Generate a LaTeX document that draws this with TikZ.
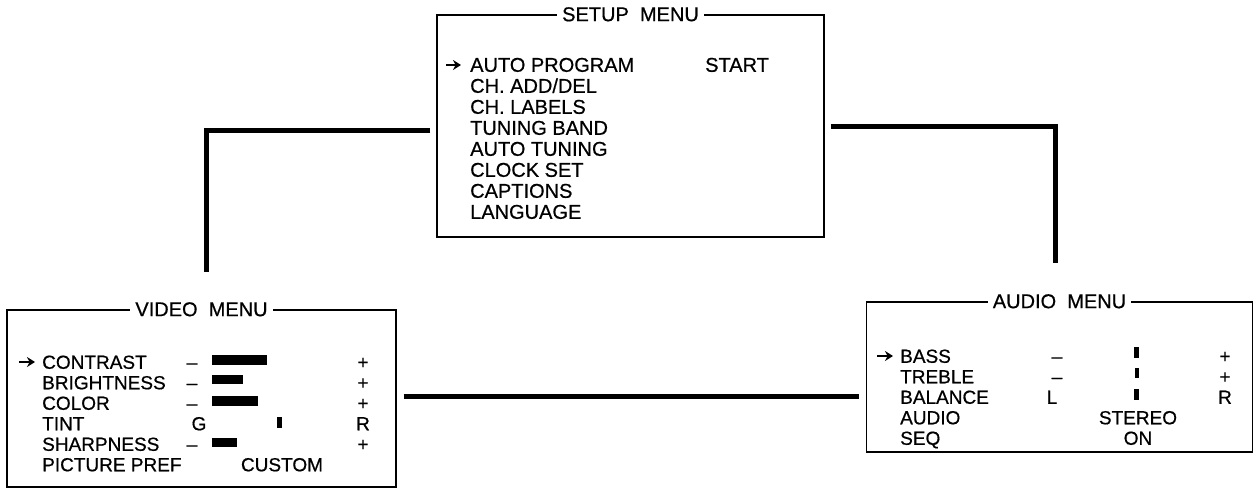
\documentclass[tikz,border=0pt]{standalone}
\usepackage{fontspec}
\setmainfont{Liberation Sans}[FakeBold=0.6]
\usetikzlibrary{arrows.meta}
\tikzset{
	menubox/.style={draw, line width=1.4pt, inner sep=0pt},
	menutitle/.style={fill=white, inner xsep=5pt, inner ysep=1pt, font=\fontsize{20}{20}\selectfont},
	rowtext/.style={anchor=west, inner sep=0pt, text height=13.6pt, text depth=0pt, font=\fontsize{19}{19}\selectfont},
	sign/.style={inner sep=0pt, text height=13.6pt, text depth=0pt, font=\fontsize{19}{19}\selectfont},
	wire/.style={line width=5pt},
	barfill/.style={fill=black},
	cursor/.style={line width=2.4pt, -{Stealth[length=8pt,width=10pt]}}
}

\begin{document}
\begin{tikzpicture}[x=1pt, y=-1pt]
			%%%%% START %%%%%
			\useasboundingbox (0,0) rectangle (1256,490);
			
			% the three menus
			\node[menubox, minimum width=387pt, minimum height=222pt] (setup) at (630.5,126) {};
			\node[menubox, minimum width=389pt, minimum height=177pt] (video) at (201.5,398.5) {};
			\node[menubox, minimum width=386pt, minimum height=150pt] (audio) at (1059.5,377) {};
			
			\node[menutitle] (setuptitle) at (setup.north) {SETUP\ \ MENU};
			\node[menutitle] (videotitle) at (video.north) {VIDEO\ \ MENU};
			\node[menutitle] (audiotitle) at (audio.north) {AUDIO\ \ MENU};
			
			% setup menu
			\foreach \txt [count=\i] in {AUTO PROGRAM, CH. ADD/DEL, CH. LABELS, TUNING BAND, AUTO TUNING, CLOCK SET, CAPTIONS, LANGUAGE}
				\node[rowtext, font=\fontsize{20}{20}\selectfont] (s\i) at (470,{44+21*\i}) {\txt};
			\node[rowtext, font=\fontsize{20}{20}\selectfont] (sstart) at (705,65) {START};
			\draw[cursor] (446,65) -- (461,65);
			
			% video menu
			\foreach \txt [count=\i] in {CONTRAST, BRIGHTNESS, COLOR, TINT, SHARPNESS, PICTURE PREF}
				\node[rowtext] (v\i) at (42,{341.5+20.5*\i}) {\txt};
			\draw[cursor] (19,362) -- (35,362);
			
			\foreach \y [count=\i] in {362, 382.5, 403, 444}
				\node[sign] (vminus\i) at (192,\y) {–};
			\foreach \y [count=\i] in {362, 382.5, 403, 444}
				\node[sign] (vplus\i) at (363,\y) {+};
			\node[sign] (vg) at (199,423.5) {G};
			\node[sign] (vr) at (363,423.5) {R};
			\node[sign] (vcustom) at (282,464.5) {CUSTOM};
			
			\fill[barfill] (212,355) rectangle (267,365);
			\fill[barfill] (212,375) rectangle (243,384);
			\fill[barfill] (212,396) rectangle (258,406);
			\fill[barfill] (277,417) rectangle (282,428);
			\fill[barfill] (212,438) rectangle (237,447);
			
			% audio menu
			\foreach \txt [count=\i] in {BASS, TREBLE, BALANCE, AUDIO, SEQ}
				\node[rowtext] (a\i) at (900,{335.5+20.5*\i}) {\txt};
			\draw[cursor] (877,356) -- (893,356);
			
			\node[sign] (aminus1) at (1057,356) {–};
			\node[sign] (aminus2) at (1057,376.5) {–};
			\node[sign] (al) at (1052,397) {L};
			\node[sign] (aplus1) at (1225,356) {+};
			\node[sign] (aplus2) at (1225,376.5) {+};
			\node[sign] (ar) at (1225,397) {R};
			\node[sign] (astereo) at (1138,417.5) {STEREO};
			\node[sign] (aon) at (1138,438) {ON};
			
			\fill[barfill] (1134,347) rectangle (1139,358);
			\fill[barfill] (1134.5,368) rectangle (1138.5,378);
			\fill[barfill] (1134,389) rectangle (1139,400);
			
			% connectors
			\coordinate (vtop) at (206,272);
			\coordinate (atop) at (1055,263);
			\draw[wire, shorten <=6pt] ([yshift=-4pt]setup.west) -| (vtop);
			\draw[wire, shorten <=6pt] (setup.east) -| (atop);
			\draw[wire, shorten <=7pt, shorten >=7pt] (video.east |- 0,396) -- (audio.west |- 0,396);
			
			%%%%% END %%%%%
\end{tikzpicture}
\end{document}
